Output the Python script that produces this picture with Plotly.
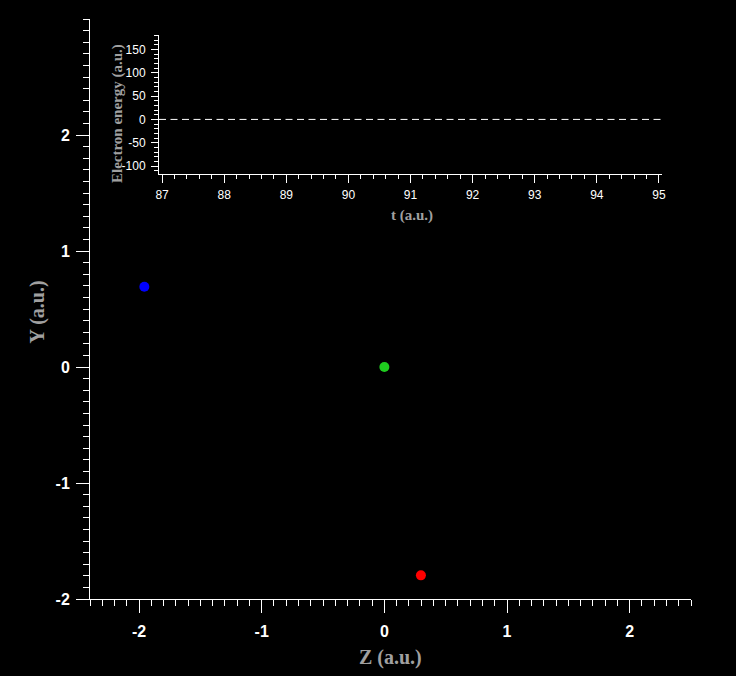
import plotly.graph_objects as go

# ---- data ----
particle_names = ["electron", "nucleus", "ion"]
particle_z = [-1.957, 0.0, 0.298]
particle_y = [0.692, 0.0, -1.796]
particle_colors = ["#0000ff", "#1fcc1f", "#ff0000"]

t_values = [86.95, 95.05]
energy_values = [0, 0]

main_x_ticks = [-2, -1, 0, 1, 2]
main_x_labels = ["-2", "-1", "0", "1", "2"]
main_y_ticks = [-2, -1, 0, 1, 2]
main_y_labels = ["-2", "-1", "0", "1", "2"]
main_half_x = [-1.5, -0.5, 0.5, 1.5]
main_half_y = [-1.5, -0.5, 0.5, 1.5, 2.5]
inset_t_ticks = [87, 88, 89, 90, 91, 92, 93, 94, 95]
inset_e_ticks = [-100, -50, 0, 50, 100, 150]
inset_e_labels = ["-100", "-50", "0", "50", "100", "150"]

# ---- geometry ----
W, H = 736, 676
L, R, T, B = 90, 45, 19, 77
pw, ph = W - L - R, H - T - B

def px(x):
    return (x - L) / pw

def py(y):
    return (H - B - y) / ph

XR = [-2.4, 2.5]
YR = [-2.0, 3.0]
TR = [86.95, 95.05]
ER = [-116, 181]

WHITE = "white"
GRAY = "#a0a0a0"
tickfont_main = dict(family="Liberation Sans", size=16, color=WHITE, weight="bold")
tickfont_inset = dict(family="Liberation Sans", size=12, color=WHITE)

fig = go.Figure()

for name, zx, yy, c in zip(particle_names, particle_z, particle_y, particle_colors):
    fig.add_trace(go.Scatter(x=[zx], y=[yy], mode="markers", name=name,
                             marker=dict(size=10, color=c, line=dict(width=0)),
                             xaxis="x", yaxis="y", showlegend=False))

fig.add_trace(go.Scatter(x=t_values, y=energy_values, mode="lines",
                         line=dict(color=WHITE, width=1, dash="7px,4.5px"),
                         xaxis="x2", yaxis="y2", showlegend=False))

def base_axis(**kw):
    d = dict(showgrid=False, zeroline=False, showline=True, linecolor=WHITE,
             linewidth=1, ticks="outside", tickcolor=WHITE, tickwidth=1)
    d.update(kw)
    return d

inset_xd = [px(159), px(662)]
inset_yd = [py(173.5), py(35)]

fig.update_layout(
    width=W, height=H,
    margin=dict(l=L, r=R, t=T, b=B),
    paper_bgcolor="black", plot_bgcolor="black",
    showlegend=False,
    # main axes
    xaxis=base_axis(domain=[0, 1], anchor="y", range=XR, tickmode="array",
                    tickvals=main_x_ticks, ticktext=main_x_labels, ticklen=13,
                    tickfont=tickfont_main, ticklabelstandoff=5,
                    minor=dict(dtick=0.1, tick0=0, ticklen=6, ticks="outside",
                               tickcolor=WHITE, showgrid=False)),
    xaxis3=base_axis(overlaying="x", anchor="y", side="top", range=XR,
                     tickmode="array", tickvals=main_x_ticks, ticklen=13,
                     showticklabels=False,
                     minor=dict(dtick=0.1, tick0=0, ticklen=6, ticks="outside",
                                tickcolor=WHITE, showgrid=False)),
    xaxis5=base_axis(overlaying="x", anchor="y", side="bottom", range=XR,
                     tickmode="array", tickvals=main_half_x, ticklen=9,
                     showticklabels=False),
    xaxis6=base_axis(overlaying="x", anchor="y", side="top", range=XR,
                     tickmode="array", tickvals=main_half_x, ticklen=9,
                     showticklabels=False),
    yaxis=base_axis(domain=[0, 1], anchor="x", range=YR, tickmode="array",
                    tickvals=main_y_ticks, ticktext=main_y_labels, ticklen=13,
                    tickfont=tickfont_main, ticklabelstandoff=3,
                    minor=dict(dtick=0.1, tick0=0, ticklen=6, ticks="outside",
                               tickcolor=WHITE, showgrid=False)),
    yaxis3=base_axis(overlaying="y", anchor="x", side="right", range=YR,
                     tickmode="array", tickvals=main_y_ticks, ticklen=13,
                     showticklabels=False,
                     minor=dict(dtick=0.1, tick0=0, ticklen=6, ticks="outside",
                                tickcolor=WHITE, showgrid=False)),
    yaxis5=base_axis(overlaying="y", anchor="x", side="left", range=YR,
                     tickmode="array", tickvals=main_half_y, ticklen=9,
                     showticklabels=False),
    yaxis6=base_axis(overlaying="y", anchor="x", side="right", range=YR,
                     tickmode="array", tickvals=main_half_y, ticklen=9,
                     showticklabels=False),
    # inset axes
    xaxis2=base_axis(domain=inset_xd, anchor="y2", range=TR, tickmode="array",
                     tickvals=inset_t_ticks, ticklen=8, tickfont=tickfont_inset,
                     ticklabelstandoff=2,
                     minor=dict(dtick=0.2, tick0=0, ticklen=4, ticks="outside",
                                tickcolor=WHITE, showgrid=False)),
    xaxis4=base_axis(overlaying="x2", anchor="y2", side="top", range=TR,
                     dtick=0.5, tick0=0, ticklen=8, showticklabels=False,
                     minor=dict(dtick=0.1, tick0=0, ticklen=4, ticks="outside",
                                tickcolor=WHITE, showgrid=False)),
    yaxis2=base_axis(domain=inset_yd, anchor="x2", range=ER, tickmode="array",
                     tickvals=inset_e_ticks, ticktext=inset_e_labels,
                     ticklen=7, tickfont=tickfont_inset, ticklabelstandoff=3,
                     minor=dict(dtick=10, tick0=0, ticklen=4, ticks="outside",
                                tickcolor=WHITE, showgrid=False)),
    yaxis4=base_axis(overlaying="y2", anchor="x2", side="right", range=ER,
                     dtick=50, tick0=0, ticklen=8, showticklabels=False,
                     minor=dict(dtick=10, tick0=0, ticklen=4, ticks="outside",
                                tickcolor=WHITE, showgrid=False)),
)

title_main = dict(family="Liberation Serif", size=20, color=GRAY, weight="bold")
title_inset = dict(family="Liberation Serif", size=15, color=GRAY, weight="bold")

annos = [
    dict(text="Z (a.u.)", x=px(390), y=py(657), font=title_main, textangle=0),
    dict(text="Y (a.u.)", x=px(36.5), y=py(312), font=title_main, textangle=-90),
    dict(text="Electron energy (a.u.)", x=px(117), y=py(114), font=title_inset, textangle=-90),
    dict(text="t (a.u.)", x=px(412), y=py(215), font=title_inset, textangle=0),
]
for a in annos:
    a.update(xref="paper", yref="paper", showarrow=False, xanchor="center", yanchor="middle")
fig.update_layout(annotations=annos)

fig.write_html(
    "out.html",
    config={"displayModeBar": False},
    post_script="document.body.style.margin='0';document.body.style.padding='0';"
                "document.body.style.background='black';"
                "document.body.style.overflow='hidden';",
)
